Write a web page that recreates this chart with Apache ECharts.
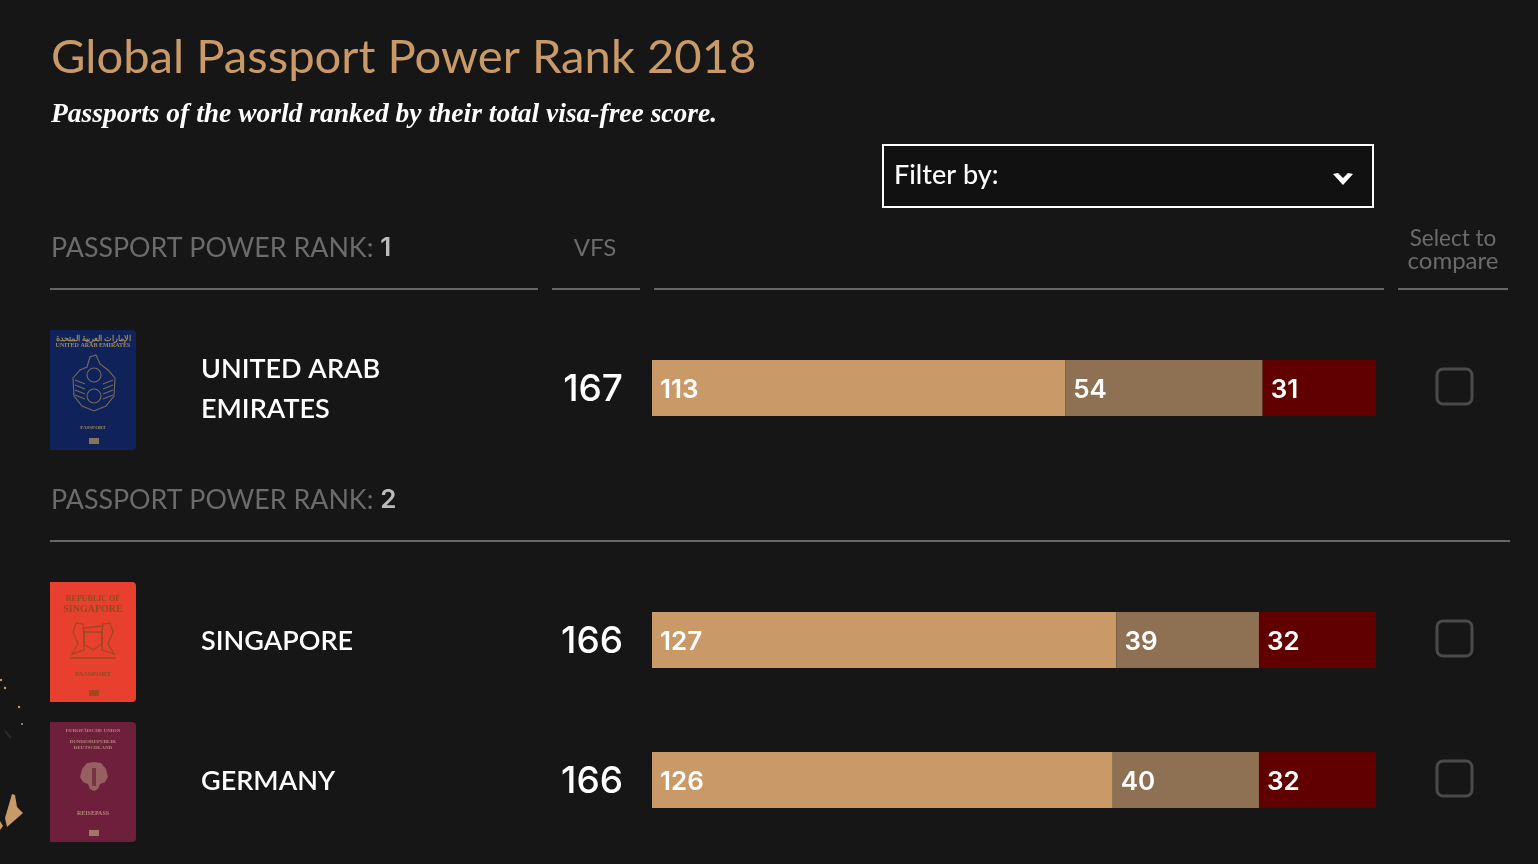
<!DOCTYPE html>
<html>
<head>
<meta charset="utf-8">
<title>Global Passport Power Rank 2018</title>
<script src="https://cdn.jsdelivr.net/npm/echarts@6/dist/echarts.min.js"></script>
<style>
  html, body { margin: 0; padding: 0; background: #161616; }
  #main { width: 1538px; height: 864px; }
</style>
</head>
<body>
<div id="main"></div>
<script>
const countries = ['UNITED ARAB\nEMIRATES', 'SINGAPORE', 'GERMANY'];
const ranks = [1, 2];
const vfsScores = [167, 166, 166];
const visaFree = [113, 127, 126];
const visaOnArrival = [54, 39, 40];
const visaRequired = [31, 32, 32];

const SANS = 'Lato, "Open Sans", sans-serif';
const NUMS = 'Inter, Lato, sans-serif';
const TAN = '#c99a68';
const GREY = '#6b6b6b';
const rowTops = [360, 612, 752];
const BAR_H = 56;
const total = visaFree[0] + visaOnArrival[0] + visaRequired[0];

const chart = echarts.init(document.getElementById('main'));

function txt(x, y, text, size, fill, extra) {
  return {
    type: 'text', x: x, y: y, silent: true,
    style: Object.assign({
      text: text, fontFamily: SANS, fontSize: size, fill: fill, verticalAlign: 'middle'
    }, extra || {})
  };
}

function rule(x1, x2, y) {
  return { type: 'rect', silent: true, shape: { x: x1, y: y - 1, width: x2 - x1, height: 2 }, style: { fill: '#666666' } };
}

function tiny(x, y, text, size, fill) {
  return txt(x, y, text, size, fill, { align: 'center', fontFamily: '"Liberation Serif", serif', fontWeight: 'bold' });
}

function poly(points, st) {
  return { type: 'polygon', silent: true, shape: { points: points }, style: st };
}

// passport cover, emblem is only a rough sketch
function passport(top, fill, ink, lines, drawEmblem) {
  const els = [{
    type: 'rect', silent: true,
    shape: { x: 50, y: top, width: 86, height: 120, r: [0, 4, 4, 0] },
    style: { fill: fill }
  }];
  lines.forEach(function (l) { els.push(tiny(93, top + l[0], l[1], l[2], ink)); });
  els.push({ type: 'rect', silent: true, shape: { x: 89, y: top + 108, width: 10, height: 6 }, style: { fill: ink, opacity: 0.8 } });
  return els.concat(drawEmblem(top, ink));
}

function uaeEmblem(top, ink) {
  const st = { fill: 'none', stroke: ink, lineWidth: 1.1, opacity: 0.7 };
  const els = [
    poly([[73, top + 48], [80, top + 40], [87, top + 37], [90, top + 27], [96, top + 25], [100, top + 34], [108, top + 40], [115, top + 48], [114, top + 66], [106, top + 76], [94, top + 81], [82, top + 76], [74, top + 66]], st),
    { type: 'circle', silent: true, shape: { cx: 94, cy: top + 45, r: 7 }, style: st },
    { type: 'circle', silent: true, shape: { cx: 94, cy: top + 66, r: 7 }, style: st }
  ];
  [50, 55, 60, 65].forEach(function (dy) {
    els.push({ type: 'line', silent: true, shape: { x1: 75, y1: top + dy, x2: 85, y2: top + dy + 4 }, style: st });
    els.push({ type: 'line', silent: true, shape: { x1: 113, y1: top + dy, x2: 103, y2: top + dy + 4 }, style: st });
  });
  return els;
}

function sgEmblem(top, ink) {
  const st = { fill: 'none', stroke: ink, lineWidth: 1.3, opacity: 0.85 };
  return [
    poly([[84, top + 50], [102, top + 50], [102, top + 62], [93, top + 68], [84, top + 62]], st),
    poly([[72, top + 72], [78, top + 62], [73, top + 50], [76, top + 41], [83, top + 42], [84, top + 50], [84, top + 68]], st),
    poly([[114, top + 72], [108, top + 62], [113, top + 50], [110, top + 41], [103, top + 42], [102, top + 50], [102, top + 68]], st),
    { type: 'line', silent: true, shape: { x1: 84, y1: top + 46, x2: 102, y2: top + 44 }, style: st },
    { type: 'line', silent: true, shape: { x1: 70, y1: top + 76, x2: 116, y2: top + 76 }, style: { stroke: ink, lineWidth: 1.6, opacity: 0.85 } }
  ];
}

function deEmblem(top, ink) {
  return [
    poly([[94, top + 40], [101, top + 41], [106, top + 47], [108, top + 55], [105, top + 60], [100, top + 62], [98, top + 67], [94, top + 69], [90, top + 67], [88, top + 62], [83, top + 60], [80, top + 55], [82, top + 47], [87, top + 41]], { fill: ink, opacity: 0.6 }),
    { type: 'rect', silent: true, shape: { x: 92, y: top + 46, width: 4, height: 18 }, style: { fill: '#6e1f3c', opacity: 0.7 } }
  ];
}

function checkbox(cy) {
  return { type: 'rect', silent: true, shape: { x: 1437, y: cy - 19, width: 35, height: 35, r: 6 }, style: { fill: 'none', stroke: '#4a4a4a', lineWidth: 3 } };
}

function rankHeader(y, rank) {
  return {
    type: 'text', x: 51, y: y, silent: true,
    style: {
      text: '{a|PASSPORT POWER RANK: }{b|' + rank + '}',
      verticalAlign: 'middle',
      rich: {
        a: { fontFamily: SANS, fontSize: 26.8, fill: GREY },
        b: { fontFamily: NUMS, fontSize: 26, fontWeight: 600, fill: '#bbbbbb' }
      }
    }
  };
}

const graphics = [
  txt(51, 58, 'Global Passport Power Rank 2018', 47.2, TAN, { fontWeight: 400 }),
  txt(51, 115, 'Passports of the world ranked by their total visa-free score.', 27.5, '#ffffff', { fontFamily: '"Liberation Serif", serif', fontStyle: 'italic', fontWeight: 'bold' }),

  // filter box
  { type: 'rect', silent: true, shape: { x: 883, y: 145, width: 490, height: 62 }, style: { fill: '#111111', stroke: '#ffffff', lineWidth: 2 } },
  txt(894, 175, 'Filter by:', 27, '#ffffff', { fontWeight: 500 }),
  poly([[1333, 174], [1338, 173], [1343, 178], [1348, 173], [1353, 174], [1343, 185]], { fill: '#ffffff' }),

  // table header
  rankHeader(248, ranks[0]),
  txt(595, 248, 'VFS', 24, GREY, { align: 'center' }),
  txt(1453, 239, 'Select to', 22.5, GREY, { align: 'center' }),
  txt(1453, 261, 'compare', 24, GREY, { align: 'center' }),
  rule(50, 538, 289), rule(552, 640, 289), rule(654, 1384, 289), rule(1398, 1508, 289),

  rankHeader(500, ranks[1]),
  rule(50, 1510, 541),

  // stray bits of the map behind the page, bottom left
  poly([[12, 794], [15, 795], [17, 807], [23, 813], [7, 827], [5, 818]], { fill: TAN }),
  poly([[0, 821], [3, 826], [0, 830]], { fill: TAN }),
  { type: 'circle', silent: true, shape: { cx: 1, cy: 680, r: 1.2 }, style: { fill: TAN } },
  { type: 'circle', silent: true, shape: { cx: 5, cy: 688, r: 1.2 }, style: { fill: TAN } },
  { type: 'circle', silent: true, shape: { cx: 19, cy: 707, r: 1.2 }, style: { fill: TAN } },
  { type: 'circle', silent: true, shape: { cx: 22, cy: 724, r: 1 }, style: { fill: TAN } },
  { type: 'line', silent: true, shape: { x1: 5, y1: 731, x2: 11, y2: 738 }, style: { stroke: '#2b2b2b', lineWidth: 2 } }
];

graphics.push.apply(graphics, passport(330, '#10225a', '#a08a5a', [
  [9, 'الإمارات العربية المتحدة', 8],
  [15, 'UNITED ARAB EMIRATES', 6],
  [98, 'PASSPORT', 5]
], uaeEmblem));
graphics.push.apply(graphics, passport(582, '#e8402f', '#8f4a20', [
  [17, 'REPUBLIC OF', 8],
  [27, 'SINGAPORE', 10],
  [92, 'PASSPORT', 7]
], sgEmblem));
graphics.push.apply(graphics, passport(722, '#6e1f3c', '#b08a78', [
  [9, 'EUROPÄISCHE UNION', 5],
  [20, 'BUNDESREPUBLIK', 5],
  [26, 'DEUTSCHLAND', 5],
  [91, 'REISEPASS', 6]
], deEmblem));

countries.forEach(function (name, i) {
  const cy = rowTops[i] + BAR_H / 2;
  name.split('\n').forEach(function (line, j, all) {
    graphics.push(txt(201, cy + (j - (all.length - 1) / 2) * 40 + 1, line, 27, '#ffffff', { fontWeight: 600 }));
  });
  graphics.push(txt(623, cy + 2, String(vfsScores[i]), 37, '#ffffff', { align: 'right', fontFamily: NUMS, fontWeight: 500 }));
  graphics.push(checkbox(cy));
});

const grids = [], xAxes = [], yAxes = [], series = [];
const layers = [
  { name: 'Visa-free', data: visaFree, color: TAN },
  { name: 'Visa on arrival', data: visaOnArrival, color: '#8e7052' },
  { name: 'Visa required', data: visaRequired, color: '#610000' }
];

countries.forEach(function (name, i) {
  grids.push({ left: 652, width: 724, top: rowTops[i], height: BAR_H });
  xAxes.push({ type: 'value', gridIndex: i, min: 0, max: total, show: false });
  yAxes.push({ type: 'category', gridIndex: i, data: [name], show: false });
  layers.forEach(function (layer) {
    series.push({
      type: 'bar', name: layer.name, stack: 'row' + i,
      xAxisIndex: i, yAxisIndex: i,
      barWidth: BAR_H, animation: false, silent: true,
      data: [layer.data[i]],
      itemStyle: { color: layer.color },
      label: {
        show: true, position: 'insideLeft', distance: 8, offset: [0, 2],
        fontFamily: NUMS, fontSize: 26, fontWeight: 600, color: '#ffffff'
      }
    });
  });
});

chart.setOption({
  backgroundColor: '#161616',
  animation: false,
  grid: grids,
  xAxis: xAxes,
  yAxis: yAxes,
  series: series,
  graphic: graphics
});
</script>
</body>
</html>
